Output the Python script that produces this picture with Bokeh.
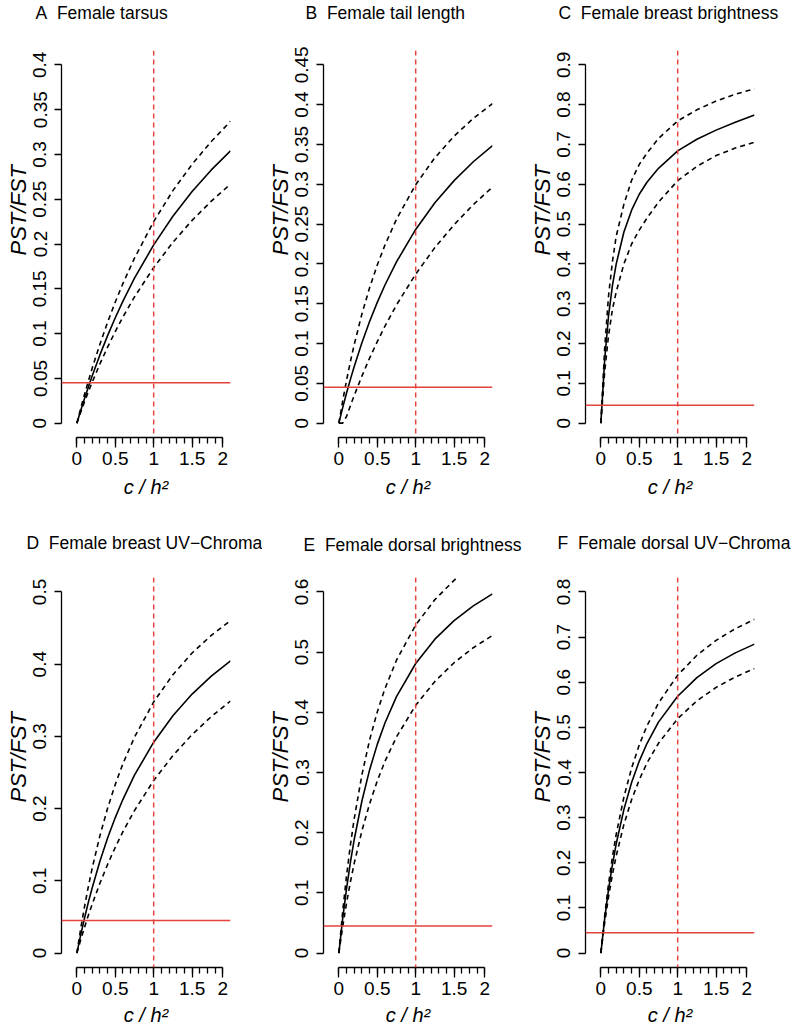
from bokeh.plotting import figure
from bokeh.layouts import gridplot
from bokeh.models import FixedTicker, Span, Range1d, LinearAxis, Title
from bokeh.embed import file_html
from bokeh.resources import INLINE

FONT = "Liberation Sans"
RED = "#e5423d"
NB = "\u00a0\u00a0"

titles = ["A" + NB + "Female tarsus", "B" + NB + "Female tail length",
          "C" + NB + "Female breast brightness", "D" + NB + "Female breast UV\u2212Chroma",
          "E" + NB + "Female dorsal brightness", "F" + NB + "Female dorsal UV\u2212Chroma"]
y_title = "PST/FST"
x_title = "c / h\u00b2"

x_vals = [0, 0.05, 0.1, 0.15, 0.2, 0.3, 0.4, 0.5, 0.6, 0.75, 1, 1.25, 1.5, 1.75, 2.0]

mid = [
    [0, 0.0141, 0.0276, 0.0405, 0.0529, 0.0762, 0.0977, 0.1177, 0.1362, 0.1618, 0.199, 0.2309, 0.2585, 0.2827, 0.304],
    [0, 0.0195, 0.0378, 0.055, 0.0712, 0.101, 0.1276, 0.1517, 0.1735, 0.2025, 0.2433, 0.2767, 0.3046, 0.3283, 0.3486],
    [0, 0.16, 0.27, 0.345, 0.40, 0.48, 0.535, 0.575, 0.605, 0.64, 0.684, 0.713, 0.736, 0.756, 0.774],
    [0, 0.0252, 0.0486, 0.0705, 0.0905, 0.1271, 0.1592, 0.1876, 0.2129, 0.2463, 0.292, 0.3286, 0.3586, 0.3835, 0.4046],
    [0, 0.0575, 0.1072, 0.1505, 0.1887, 0.2526, 0.3043, 0.3467, 0.3822, 0.4261, 0.4811, 0.5215, 0.5524, 0.5769, 0.5967],
    [0, 0.0767, 0.1407, 0.1953, 0.2421, 0.3183, 0.3777, 0.4253, 0.4642, 0.5116, 0.5689, 0.6103, 0.6411, 0.665, 0.6844],
]
upper = [
    [0, 0.0165, 0.0322, 0.0471, 0.0615, 0.0882, 0.1127, 0.1352, 0.1560, 0.1842, 0.225, 0.2596, 0.289, 0.3144, 0.337],
    [0, 0.0281, 0.0538, 0.0773, 0.0988, 0.1371, 0.17, 0.1986, 0.2237, 0.2561, 0.2995, 0.3334, 0.3605, 0.3828, 0.4014],
    [0, 0.19, 0.32, 0.405, 0.47, 0.55, 0.61, 0.65, 0.678, 0.715, 0.759, 0.787, 0.809, 0.826, 0.840],
    [0, 0.0338, 0.0644, 0.0923, 0.1177, 0.1624, 0.2006, 0.2335, 0.2623, 0.2989, 0.3477, 0.3854, 0.4155, 0.4399, 0.4602],
    [0, 0.0695, 0.1285, 0.1795, 0.2234, 0.2962, 0.3539, 0.4007, 0.4393, 0.4866, 0.545, 0.5873, 0.6193, 0.648, 0.672],
    [0, 0.0837, 0.1534, 0.2125, 0.2632, 0.3457, 0.4099, 0.4612, 0.5032, 0.5538, 0.6156, 0.6597, 0.6927, 0.7186, 0.7393],
]
lower = [
    [0, 0.0122, 0.0239, 0.0351, 0.0458, 0.0661, 0.0849, 0.1023, 0.1186, 0.1409, 0.1737, 0.2019, 0.2264, 0.2478, 0.2668],
    [0, 0, 0.0084, 0.0220, 0.0348, 0.0591, 0.0816, 0.1024, 0.1218, 0.1484, 0.1872, 0.2205, 0.2492, 0.2744, 0.2966],
    [0, 0.13, 0.22, 0.285, 0.33, 0.40, 0.45, 0.485, 0.515, 0.555, 0.609, 0.645, 0.672, 0.691, 0.7055],
    [0, 0.0184, 0.0358, 0.0523, 0.0678, 0.0966, 0.1227, 0.1464, 0.1682, 0.1973, 0.2389, 0.2734, 0.3025, 0.3274, 0.349],
    [0, 0.044, 0.083, 0.1180, 0.1492, 0.2031, 0.248, 0.286, 0.3186, 0.359, 0.4117, 0.4513, 0.4824, 0.5073, 0.5278],
    [0, 0.0675, 0.1245, 0.1737, 0.2155, 0.285, 0.3397, 0.384, 0.4209, 0.4647, 0.5193, 0.5587, 0.5885, 0.6117, 0.6304],
]

y_ticks = [
    [0, 0.05, 0.1, 0.15, 0.2, 0.25, 0.3, 0.35, 0.4],
    [0, 0.05, 0.1, 0.15, 0.2, 0.25, 0.3, 0.35, 0.4, 0.45],
    [0, 0.1, 0.2, 0.3, 0.4, 0.5, 0.6, 0.7, 0.8, 0.9],
    [0, 0.1, 0.2, 0.3, 0.4, 0.5],
    [0, 0.1, 0.2, 0.3, 0.4, 0.5, 0.6],
    [0, 0.1, 0.2, 0.3, 0.4, 0.5, 0.6, 0.7, 0.8],
]
y_labels = [
    ["0", "0.05", "0.1", "0.15", "0.2", "0.25", "0.3", "0.35", "0.4"],
    ["0", "0.05", "0.1", "0.15", "0.2", "0.25", "0.3", "0.35", "0.4", "0.45"],
    ["0", "0.1", "0.2", "0.3", "0.4", "0.5", "0.6", "0.7", "0.8", "0.9"],
    ["0", "0.1", "0.2", "0.3", "0.4", "0.5"],
    ["0", "0.1", "0.2", "0.3", "0.4", "0.5", "0.6"],
    ["0", "0.1", "0.2", "0.3", "0.4", "0.5", "0.6", "0.7", "0.8"],
]
# as drawn in the reference: the axis stops at 1.9, where the "2" label sits
x_ticks = [0, 0.5, 1, 1.5, 1.9]
x_labels = ["0", "0.5", "1", "1.5", "2"]
x_minor = [0, 0.1, 0.2, 0.3, 0.4, 0.5, 0.6, 0.7, 0.8, 0.9, 1.0,
           1.1, 1.2, 1.3, 1.4, 1.5, 1.6, 1.7, 1.8, 1.9]
fst_line = 0.045
ratio_line = 1.0

# layout (pixels)
FL, FW, FT, FH = 61, 169, 47, 390
widths = [262, 262, 267]
heights = [530, 500]
XR = (-0.2, 2.0)
title_offset = [-26, -18, -27, -35, -20, -28]
spacer = [25, 25, 25, 22, 20, 22]
ylab_offset = [182, 182, 182, 165, 165, 165]

figs = []
for i in range(6):
    col, row = i % 3, i // 3
    w, h = widths[col], heights[row]
    ymax = y_ticks[i][-1]
    yr = (-0.04 * ymax, 1.04 * ymax)
    p = figure(width=w, height=h, x_range=Range1d(*XR), y_range=Range1d(*yr),
               output_backend="svg", toolbar_location=None,
               x_axis_type=None, y_axis_type=None,
               min_border_left=FL, min_border_right=w - FL - FW,
               min_border_top=FT, min_border_bottom=h - FT - FH)
    p.title = None
    p.outline_line_color = None
    p.grid.visible = False
    p.background_fill_color = "white"
    p.border_fill_color = "white"

    # spacer keeps the panel title away from the frame, then the title itself
    p.add_layout(Title(text="\u00a0", text_font_size="1px", standoff=spacer[i],
                       text_color="white"), "above")
    p.add_layout(Title(text=titles[i], align="left", offset=title_offset[i], standoff=0,
                       text_font=FONT, text_font_size="17.5px", text_font_style="normal",
                       text_color="black"), "above")

    xa = LinearAxis(bounds=(0, 1.9), ticker=FixedTicker(ticks=x_ticks, minor_ticks=x_minor))
    xa.major_label_overrides = dict(zip(x_ticks, x_labels))
    xa.major_tick_out = 10
    xa.major_tick_in = 0
    xa.minor_tick_out = 6
    xa.minor_tick_in = 0
    xa.axis_line_width = 1.3
    xa.major_tick_line_width = 1.3
    xa.minor_tick_line_width = 1.3
    xa.major_label_standoff = 4
    xa.major_label_text_font = FONT
    xa.major_label_text_font_size = "19px"
    xa.major_label_text_color = "black"
    xa.axis_label = x_title
    xa.axis_label_text_font = FONT
    xa.axis_label_text_font_style = "italic"
    xa.axis_label_text_font_size = "20px"
    xa.axis_label_text_color = "black"
    xa.axis_label_standoff = 8 if row == 0 else 6
    p.add_layout(xa, "below")

    ya = LinearAxis(bounds=(0, ymax), ticker=FixedTicker(ticks=y_ticks[i], minor_ticks=[]))
    ya.major_label_overrides = dict(zip(y_ticks[i], y_labels[i]))
    ya.major_label_orientation = "vertical"
    ya.major_tick_out = 7
    ya.major_tick_in = 0
    ya.minor_tick_line_color = None
    ya.axis_line_width = 1.3
    ya.major_tick_line_width = 1.3
    ya.major_label_standoff = 8
    ya.major_label_text_font = FONT
    ya.major_label_text_font_size = "19px"
    ya.major_label_text_color = "black"
    p.add_layout(ya, "left")

    p.add_layout(Title(text=y_title, align="left", offset=ylab_offset[i], standoff=0,
                       text_font=FONT, text_font_size="22px", text_font_style="italic",
                       text_color="black"), "left")

    p.add_layout(Span(location=fst_line, dimension="width", line_color=RED, line_width=1.5))
    p.add_layout(Span(location=ratio_line, dimension="height", line_color=RED, line_width=1.5,
                      line_dash="5 4"))

    p.line(x_vals, mid[i], line_color="black", line_width=1.6)
    p.line(x_vals, upper[i], line_color="black", line_width=1.6, line_dash="5 4")
    p.line(x_vals, lower[i], line_color="black", line_width=1.6, line_dash="5 4")
    figs.append(p)

grid = gridplot([figs[:3], figs[3:]], toolbar_location=None)

open("out.html", "w").write(file_html(grid, INLINE))
